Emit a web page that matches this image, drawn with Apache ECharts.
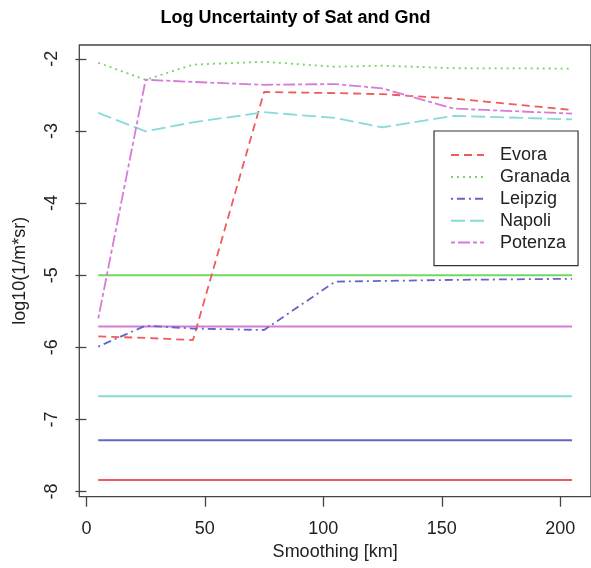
<!DOCTYPE html>
<html>
<head>
<meta charset="utf-8">
<script src="https://cdn.jsdelivr.net/npm/echarts@6/dist/echarts.min.js"></script>
<style>html,body{margin:0;padding:0;background:#fff;}#c{width:591px;height:568px;}</style>
</head>
<body>
<div id="c"></div>
<script>
// Smoothing distances (km)
const smoothing = [5, 25, 45, 75, 105, 125, 155, 205];
// Satellite log uncertainty per station
const evora   = [-5.85, -5.87, -5.90, -2.46, -2.475, -2.49, -2.55, -2.71];
const granada = [-2.055, -2.29, -2.08, -2.04, -2.11, -2.095, -2.13, -2.135];
const leipzig = [-5.99, -5.70, -5.74, -5.76, -5.09, -5.08, -5.065, -5.05];
const napoli  = [-2.75, -3.005, -2.88, -2.74, -2.82, -2.95, -2.79, -2.84];
const potenza = [-5.60, -2.29, -2.32, -2.36, -2.35, -2.41, -2.69, -2.76];
// Ground constant levels per station
const gndEvora = -7.84, gndGranada = -5.0, gndLeipzig = -7.29, gndNapoli = -6.68, gndPotenza = -5.71;
const stations = ['Evora', 'Granada', 'Leipzig', 'Napoli', 'Potenza'];
const xTicks = [0, 50, 100, 150, 200];
const yTicks = [-8, -7, -6, -5, -4, -3, -2];

const colors = ['#F05A5A', '#74D663', '#6565C8', '#86DADA', '#D67CD6'];
const dashes = [[8, 5], [2, 4], [2, 4, 8, 4], [14, 5], [4, 3, 12, 3]];
const satVals = [evora, granada, leipzig, napoli, potenza];
const gndVals = [gndEvora, gndGranada, gndLeipzig, gndNapoli, gndPotenza];

const series = [];
stations.forEach((s, i) => {
  series.push({
    name: s, type: 'line', symbol: 'none', animation: false,
    data: smoothing.map((x, j) => [x, satVals[i][j]]),
    lineStyle: { color: colors[i], width: 1.8, type: dashes[i] },
    itemStyle: { color: colors[i] }, z: 3
  });
});
stations.forEach((s, i) => {
  series.push({
    name: s + ' Gnd', type: 'line', symbol: 'none', animation: false,
    data: [[smoothing[0], gndVals[i]], [smoothing[smoothing.length - 1], gndVals[i]]],
    lineStyle: { color: colors[i], width: 2, type: 'solid' },
    itemStyle: { color: colors[i] }, z: 2
  });
});

const font = 'Liberation Sans, Arial, Helvetica, sans-serif';
const chart = echarts.init(document.getElementById('c'), null, { renderer: 'canvas' });
chart.setOption({
  backgroundColor: '#ffffff',
  animation: false,
  title: {
    text: 'Log Uncertainty of Sat and Gnd', left: 'center', top: 4,
    textStyle: { fontFamily: font, fontSize: 18, fontWeight: 'bold', color: '#000' }
  },
  legend: {
    data: stations, orient: 'vertical', left: 434, top: 131,
    padding: [15, 8, 14, 16], itemWidth: 33, itemHeight: 14, itemGap: 3.9,
    borderColor: '#333', borderWidth: 1.2, backgroundColor: '#fff',
    itemStyle: { opacity: 0, borderWidth: 0 },
    textStyle: { fontFamily: font, fontSize: 18, color: '#222', padding: [0, 0, 0, 11] }
  },
  grid: {
    left: 79.3, top: 45, right: -7.4, bottom: 71.3,
    show: true, borderColor: '#444', borderWidth: 1.3, backgroundColor: 'transparent'
  },
  xAxis: {
    type: 'value', min: -3, max: 213,
    name: 'Smoothing [km]', nameLocation: 'middle', nameGap: 46,
    nameTextStyle: { fontFamily: font, fontSize: 18, color: '#222' },
    axisLine: { show: false },
    splitLine: { show: false },
    axisTick: { show: true, length: 10, lineStyle: { color: '#444', width: 1.3 }, customValues: xTicks },
    axisLabel: { fontFamily: font, fontSize: 18, color: '#222', margin: 23, customValues: xTicks }
  },
  yAxis: {
    type: 'value', min: -8.072, max: -1.808,
    name: 'log10(1/m*sr)', nameLocation: 'middle', nameGap: 50, nameRotate: 90,
    nameTextStyle: { fontFamily: font, fontSize: 18, color: '#222' },
    axisLine: { show: false },
    splitLine: { show: false },
    axisTick: { show: true, length: 11, lineStyle: { color: '#444', width: 1.3 }, customValues: yTicks },
    axisLabel: { fontFamily: font, fontSize: 18, color: '#222', margin: 18, rotate: 90, customValues: yTicks }
  },
  series: series
});
</script>
</body>
</html>
